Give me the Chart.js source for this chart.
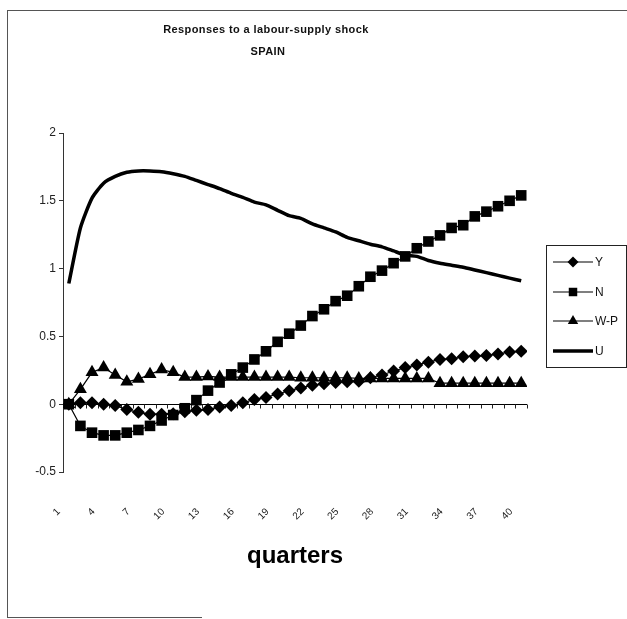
<!DOCTYPE html>
<html>
<head>
<meta charset="utf-8">
<script src="https://cdn.jsdelivr.net/npm/chart.js@4.4.1/dist/chart.umd.min.js"></script>
<style>
  body { margin: 0; background: #fff; font-family: Arial, "Liberation Sans", sans-serif; }
  #quadro { position: relative; width: 627px; height: 619px; }
  #grafico { position: absolute; left: 0; top: 0; }
  #borda { position: absolute; left: 7px; top: 10px; width: 620px; height: 607px;
           border-left: 1px solid #555; border-top: 1px solid #555; }
  #bordaBaixo { position: absolute; left: 7px; top: 617px; width: 195px; border-top: 1px solid #555; }
  #legenda { position: absolute; left: 546px; top: 245px; width: 79px; height: 121px;
             border: 1px solid #222; }
  .item { position: absolute; left: 5px; height: 14px; display: flex; align-items: center; }
  .item span { font-size: 12px; color: #111; margin-left: 1px; }
</style>
</head>
<body>
<div id="quadro">
  <div id="borda"></div>
  <div id="bordaBaixo"></div>
  <canvas id="grafico" width="627" height="619"></canvas>
  <div id="legenda"></div>
</div>
<script>
// trimestres 1..40 e os que levam rótulo no eixo
const trimestres = [1, 2, 3, 4, 5, 6, 7, 8, 9, 10, 11, 12, 13, 14, 15, 16, 17, 18, 19, 20,
  21, 22, 23, 24, 25, 26, 27, 28, 29, 30, 31, 32, 33, 34, 35, 36, 37, 38, 39, 40];
const rotulosX = [1, 4, 7, 10, 13, 16, 19, 22, 25, 28, 31, 34, 37, 40];
const rotulosY = [-0.5, 0, 0.5, 1, 1.5, 2];

const titulo = ['Responses to a labour-supply shock', 'SPAIN'];
const nomes = ['Y', 'N', 'W-P', 'U'];

// respostas ao choque
const serieY = [0, 0.01, 0.01, 0.0, -0.01, -0.04, -0.06, -0.075, -0.075, -0.07,
  -0.055, -0.045, -0.04, -0.02, -0.01, 0.01, 0.035, 0.05, 0.075, 0.10,
  0.12, 0.14, 0.15, 0.16, 0.165, 0.17, 0.195, 0.215, 0.245, 0.27,
  0.29, 0.31, 0.33, 0.335, 0.35, 0.355, 0.36, 0.37, 0.385, 0.39];
const serieN = [0, -0.16, -0.21, -0.23, -0.23, -0.21, -0.19, -0.16, -0.12, -0.08,
  -0.03, 0.03, 0.10, 0.16, 0.22, 0.27, 0.33, 0.39, 0.46, 0.52,
  0.58, 0.65, 0.70, 0.76, 0.80, 0.87, 0.94, 0.985, 1.04, 1.09,
  1.15, 1.20, 1.245, 1.30, 1.32, 1.385, 1.42, 1.46, 1.50, 1.54];
const serieWP = [0, 0.11, 0.235, 0.27, 0.215, 0.165, 0.185, 0.22, 0.255, 0.235,
  0.20, 0.20, 0.205, 0.20, 0.20, 0.20, 0.20, 0.20, 0.20, 0.20,
  0.195, 0.195, 0.195, 0.195, 0.195, 0.19, 0.19, 0.19, 0.19, 0.19,
  0.19, 0.19, 0.155, 0.155, 0.155, 0.155, 0.155, 0.155, 0.155, 0.155];
const serieU = [0.89, 1.30, 1.52, 1.63, 1.68, 1.71, 1.72, 1.72, 1.715, 1.70,
  1.68, 1.65, 1.62, 1.59, 1.555, 1.525, 1.49, 1.47, 1.43, 1.39,
  1.37, 1.33, 1.30, 1.27, 1.23, 1.205, 1.18, 1.16, 1.13, 1.10,
  1.09, 1.06, 1.04, 1.025, 1.01, 0.99, 0.97, 0.95, 0.93, 0.91];

const pontos = serie => trimestres.map((q, i) => ({ x: q, y: serie[i] }));

const conjuntos = [
  { label: nomes[0], data: pontos(serieY), borderColor: '#000', backgroundColor: '#000',
    borderWidth: 1.2, pointStyle: 'rectRot', pointRadius: 6.5, pointBorderWidth: 0 },
  { label: nomes[1], data: pontos(serieN), borderColor: '#000', backgroundColor: '#000',
    borderWidth: 1.2, pointStyle: 'rect', pointRadius: 7.5, pointBorderWidth: 0 },
  { label: nomes[2], data: pontos(serieWP), borderColor: '#000', backgroundColor: '#000',
    borderWidth: 1.2, pointStyle: 'triangle', pointRadius: 7.5, pointBorderWidth: 0 },
  { label: nomes[3], data: pontos(serieU), borderColor: '#000', backgroundColor: '#000',
    borderWidth: 3.5, pointRadius: 0, tension: 0.2 }
];

// tracinhos entre categorias sobre a linha do zero
const marcasZero = {
  id: 'marcasZero',
  beforeDatasetsDraw(chart) {
    const { ctx, scales: { x, y } } = chart;
    const y0 = Math.round(y.getPixelForValue(0)) + 0.5;
    const limites = trimestres.map(q => q - 0.5).concat([trimestres[trimestres.length - 1] + 0.5]);
    ctx.save();
    ctx.strokeStyle = '#222';
    ctx.lineWidth = 1;
    ctx.beginPath();
    limites.forEach(q => {
      const px = Math.round(x.getPixelForValue(q)) + 0.5;
      ctx.moveTo(px, y0);
      ctx.lineTo(px, y0 + 4);
    });
    ctx.stroke();
    ctx.restore();
  }
};

// título deslocado para a esquerda, como no original
const tituloDeslocado = {
  id: 'tituloDeslocado',
  afterDraw(chart) {
    const ctx = chart.ctx;
    ctx.save();
    ctx.fillStyle = '#111';
    ctx.textAlign = 'center';
    ctx.textBaseline = 'middle';
    ctx.font = 'bold 11px Arial, "Liberation Sans", sans-serif';
    if ('letterSpacing' in ctx) ctx.letterSpacing = '0.4px';
    ctx.fillText(titulo[0], 266, 30);
    ctx.fillText(titulo[1], 268, 52);
    ctx.restore();
  }
};

const ctx = document.getElementById('grafico').getContext('2d');
const grafico = new Chart(ctx, {
  type: 'line',
  data: { datasets: conjuntos },
  options: {
    responsive: false,
    animation: false,
    layout: { padding: { top: 133, right: 100, bottom: 44, left: 0 } },
    plugins: { legend: { display: false }, tooltip: { enabled: false } },
    scales: {
      x: {
        type: 'linear',
        min: 0.5,
        max: 40.5,
        afterBuildTicks: s => { s.ticks = rotulosX.map(v => ({ value: v })); },
        afterFit: s => { s.height = 103; },
        grid: { display: false },
        border: { display: false },
        ticks: {
          autoSkip: false, minRotation: 45, maxRotation: 45,
          padding: 26, labelOffset: -10,
          color: '#222', font: { size: 10, family: 'Arial' }
        },
        title: {
          display: true, text: 'quarters', color: '#000',
          font: { size: 24, weight: 'bold', family: 'Arial' },
          padding: { top: 4, bottom: 4 }
        }
      },
      y: {
        min: -0.5,
        max: 2,
        afterBuildTicks: s => { s.ticks = rotulosY.map(v => ({ value: v })); },
        afterFit: s => { s.width = 63; },
        grid: {
          color: c => (c.tick && c.tick.value === 0 ? '#000' : 'rgba(0,0,0,0)'),
          tickColor: '#333', tickLength: 4, lineWidth: 1
        },
        border: { display: true, color: '#333', width: 1 },
        ticks: {
          padding: 3, color: '#222', font: { size: 12, family: 'Arial' },
          callback: v => String(v)
        }
      }
    }
  },
  plugins: [marcasZero, tituloDeslocado]
});

// legenda com linha e marcador desenhados pelo próprio Chart.js
const legenda = document.getElementById('legenda');
const topos = [9, 39, 68, 98];
const tamanhos = [5.5, 6, 6, 0];
conjuntos.forEach((d, i) => {
  const item = document.createElement('div');
  item.className = 'item';
  item.style.top = topos[i] + 'px';
  const amostra = document.createElement('canvas');
  amostra.width = 42; amostra.height = 14;
  const c = amostra.getContext('2d');
  c.strokeStyle = '#000';
  c.lineWidth = d.borderWidth;
  c.beginPath(); c.moveTo(1, 7); c.lineTo(41, 7); c.stroke();
  if (tamanhos[i] > 0) {
    c.fillStyle = '#000';
    Chart.helpers.drawPoint(c, { pointStyle: d.pointStyle, radius: tamanhos[i], borderWidth: 0 }, 21, 7);
  }
  const texto = document.createElement('span');
  texto.textContent = d.label;
  item.appendChild(amostra);
  item.appendChild(texto);
  legenda.appendChild(item);
});
</script>
</body>
</html>
